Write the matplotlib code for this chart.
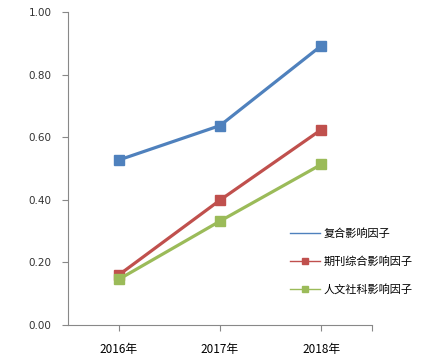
import matplotlib.pyplot as plt
from matplotlib.lines import Line2D

plt.rcParams['font.family'] = ['Noto Sans CJK SC', 'DejaVu Sans']

years = ['2016年', '2017年', '2018年']
composite = [0.527, 0.637, 0.892]
journal = [0.160, 0.399, 0.624]
humanities = [0.146, 0.332, 0.513]
names = ['复合影响因子', '期刊综合影响因子', '人文社科影响因子']
colors = ['#4F81BD', '#C0504D', '#9BBB59']

fig = plt.figure(figsize=(4.34, 3.6), dpi=100)
ax = fig.add_axes([0.157, 0.097, 0.70, 0.870])

x = range(len(years))
for vals, c in zip([composite, journal, humanities], colors):
    ax.plot(x, vals, color=c, linewidth=2.3, marker='s', markersize=7.5,
            markeredgecolor=c)

ax.set_xlim(-0.5, 2.5)
ax.set_ylim(0, 1.0)
ax.set_yticks([0, 0.2, 0.4, 0.6, 0.8, 1.0])
ax.set_yticklabels(['%.2f' % v for v in [0, 0.2, 0.4, 0.6, 0.8, 1.0]],
                   family='DejaVu Sans', fontsize=7.5, color='#333333')
ax.set_xticks([0, 1, 2, 2.5])
ax.set_xticklabels(years + [''], fontsize=8.5)
ax.tick_params(axis='both', colors='#888888', length=4, width=0.8)
ax.tick_params(axis='y', labelcolor='#333333', pad=8)
ax.tick_params(axis='x', labelcolor='#000000', pad=9)
for s in ['top', 'right']:
    ax.spines[s].set_visible(False)
for s in ['left', 'bottom']:
    ax.spines[s].set_color('#888888')
    ax.spines[s].set_linewidth(0.8)

# legend sits inside the plot, lower right
handles = [Line2D([], [], color=colors[0], linewidth=1),
           Line2D([], [], color=colors[1], linewidth=1, marker='s', markersize=5),
           Line2D([], [], color=colors[2], linewidth=1, marker='s', markersize=5)]
fig.legend(handles, names, loc='upper left', bbox_to_anchor=(0.645, 0.395),
           frameon=False, fontsize=8, labelspacing=1.55, handlelength=2.7,
           handletextpad=0.3)

fig.savefig('out.png', dpi=100)
